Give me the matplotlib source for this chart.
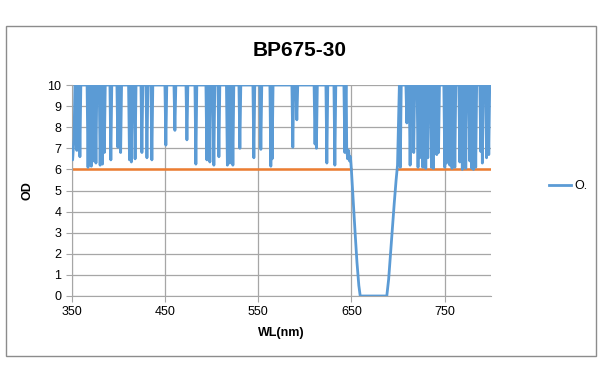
import matplotlib.pyplot as plt
from matplotlib.patches import Rectangle

# spike minima (wavelength nm, OD at the bottom of the dip)
spike_wl = [355.5, 358.8, 367.5, 369.5, 371.0, 373.0, 376.0, 380.5, 383.0, 385.0,
            392.0, 399.5, 402.5, 412.0, 414.0, 418.0, 425.3, 430.7, 436.0, 451.0,
            460.7, 473.6, 483.2, 495.0, 498.2, 502.5, 507.9, 517.0, 519.5, 522.9,
            530.4, 545.4, 552.9, 563.6, 565.0, 587.2, 591.5, 611.0, 612.5, 623.7,
            632.3, 643.0]
spike_od = [6.9, 6.6, 6.1, 6.6, 6.15, 6.4, 6.3, 6.2, 6.25, 6.8,
            6.45, 7.05, 6.8, 6.45, 6.35, 6.5, 6.8, 6.55, 6.45, 7.15,
            7.85, 7.4, 6.25, 6.45, 6.35, 6.2, 6.6, 6.2, 6.3, 6.2,
            7.0, 6.55, 6.95, 6.15, 6.5, 7.05, 8.35, 7.2, 7.0, 6.3,
            6.2, 6.8]

spike_wl_r = [702.5, 709.5, 713.0, 716.9, 721.5, 723.4, 726.6, 729.8, 732.0, 736.0,
              738.0, 741.6, 743.5, 750.2, 752.0, 755.6, 758.0, 761.0, 766.3, 769.0,
              772.7, 777.0, 779.2, 781.0, 783.4, 788.8, 790.5, 795.0, 797.4]
spike_od_r = [6.1, 8.2, 6.2, 6.8, 6.1, 6.55, 6.1, 6.05, 6.55, 6.1,
              6.05, 6.7, 6.8, 6.1, 6.3, 6.2, 6.05, 6.1, 6.35, 6.0,
              6.05, 6.4, 6.05, 6.0, 6.1, 6.85, 6.3, 6.55, 6.7]

# start of the curve, the blocking edge and the pass band
start_wl = [350.0, 351.0, 352.5, 353.5]
start_od = [6.6, 6.45, 7.5, 10.0]
band_wl = [644.5, 645.0, 646.0, 647.0, 648.0, 649.0, 650.0, 652.0, 654.0, 656.0,
           658.0, 659.5, 688.0, 690.0, 692.0, 694.0, 696.0, 698.0, 699.5, 700.5, 701.5]
band_od = [10.0, 7.0, 6.5, 6.9, 6.4, 6.6, 6.0, 4.5, 3.0, 1.6,
           0.5, 0.0, 0.0, 0.8, 2.0, 3.2, 4.4, 5.5, 6.2, 8.0, 10.0]
end_wl = [800.0]
end_od = [10.0]

# OD 6 spec line, outside the pass band
spec_left = [350, 650]
spec_right = [700, 800]
spec_od = 6

hw = 1.0
wl = list(start_wl)
od = list(start_od)
for c, m in zip(spike_wl, spike_od):
    wl += [c - hw, c, c + hw]
    od += [10, m, 10]
wl += band_wl
od += band_od
for c, m in zip(spike_wl_r, spike_od_r):
    wl += [c - hw, c, c + hw]
    od += [10, m, 10]
wl += end_wl
od += end_od

fig = plt.figure(figsize=(6, 3.83), dpi=100)
fig.patches.append(Rectangle((6 / 600, 1 - 356 / 383), 590 / 600, 330 / 383,
                             transform=fig.transFigure, fill=False,
                             edgecolor='#8c8c8c', linewidth=1))

ax = fig.add_axes([71.7 / 600, 87 / 383, 419.5 / 600, 211 / 383])
ax.plot(wl, od, color='#5B9BD5', linewidth=2.0, label='O.', zorder=3)
ax.plot(spec_left, [spec_od] * 2, color='#ED7D31', linewidth=1.8, zorder=2)
ax.plot(spec_right, [spec_od] * 2, color='#ED7D31', linewidth=1.8, zorder=2)

ax.set_xlim(350, 800)
ax.set_ylim(0, 10)
ax.set_xticks([350, 450, 550, 650, 750])
ax.set_yticks(range(0, 11))
ax.grid(True, color='#a6a6a6', linewidth=0.9)
ax.set_axisbelow(True)
for s in ['top', 'right']:
    ax.spines[s].set_visible(False)
for s in ['left', 'bottom']:
    ax.spines[s].set_color('#a6a6a6')
ax.tick_params(axis='both', colors='#a6a6a6', length=4, labelcolor='black',
               labelsize=9)
for lab in ax.get_xticklabels() + ax.get_yticklabels():
    lab.set_family('Liberation Sans')

ax.set_xlabel('WL(nm)', fontsize=9, fontweight='bold', family='Liberation Sans',
              labelpad=6)
ax.set_ylabel('OD', fontsize=9, fontweight='bold', family='Liberation Sans',
              labelpad=10)

fig.text(0.5, 1 - 50 / 383, 'BP675-30', ha='center', va='center', fontsize=15,
         fontweight='bold', family='Liberation Sans')

fig.legend(loc='center left', bbox_to_anchor=(538 / 600, 1 - 186 / 383),
           frameon=False, handlelength=1.7, handletextpad=0.3,
           prop={'family': 'Liberation Sans', 'size': 9})

fig.savefig('out.png', dpi=100)
